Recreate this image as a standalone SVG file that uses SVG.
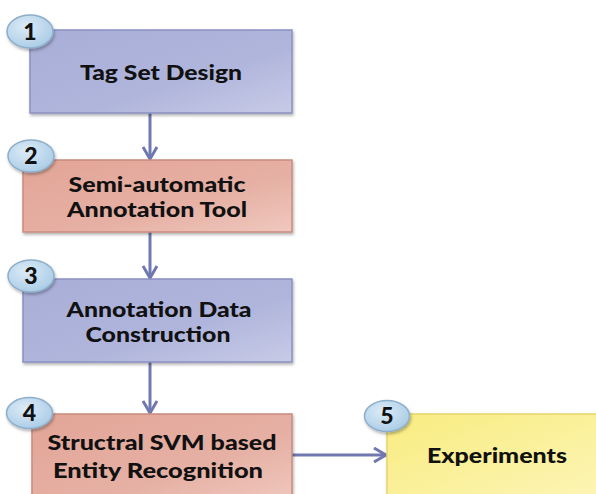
<svg xmlns="http://www.w3.org/2000/svg" width="596" height="494" viewBox="0 0 596 494">
<defs>
<linearGradient id="gBlue" x1="0" y1="0" x2="1" y2="1">
<stop offset="0" stop-color="#a9aed8"/><stop offset="0.6" stop-color="#b0b5dc"/><stop offset="1" stop-color="#c8cbe6"/>
</linearGradient>
<linearGradient id="gRed" x1="0" y1="0" x2="1" y2="1">
<stop offset="0" stop-color="#e2a597"/><stop offset="0.6" stop-color="#e6b0a4"/><stop offset="1" stop-color="#f0c8be"/>
</linearGradient>
<linearGradient id="gYel" x1="0" y1="0" x2="1" y2="1">
<stop offset="0" stop-color="#f8ec80"/><stop offset="1" stop-color="#fdf5b8"/>
</linearGradient>
<radialGradient id="gBadge" cx="0.4" cy="0.35" r="0.7">
<stop offset="0" stop-color="#dcebf7"/><stop offset="1" stop-color="#a9cbe6"/>
</radialGradient>
<marker id="arr" viewBox="0 0 16 16" refX="14" refY="8" markerWidth="16" markerHeight="16" markerUnits="userSpaceOnUse" orient="auto">
<path d="M2,1 L14,8 L2,15" fill="none" stroke="#7078b0" stroke-width="3"/>
</marker>
<filter id="sh" x="-10%" y="-10%" width="130%" height="130%">
<feDropShadow dx="1" dy="2" stdDeviation="1.5" flood-color="#000" flood-opacity="0.3"/>
</filter>
</defs>
<style>
.box{stroke-width:1.5}
.blue{fill:url(#gBlue);stroke:#8a90c2}
.red{fill:url(#gRed);stroke:#c98b7f}
.yel{fill:url(#gYel);stroke:#e6d56c}
.badge{fill:url(#gBadge);stroke:#8eafcc;stroke-width:1.5}
.t{font-family:Lato,"Open Sans",sans-serif;font-weight:900;font-size:21px;fill:#111;text-anchor:middle}
.n{font-family:Lato,"Open Sans",sans-serif;font-weight:900;font-size:23px;fill:#111;text-anchor:middle}
.c{stroke:#7078b0;stroke-width:3;fill:none;marker-end:url(#arr)}
</style>
<g id="connectors">
<line class="c" x1="150" y1="113" x2="150" y2="159"/>
<line class="c" x1="150" y1="232" x2="150" y2="278"/>
<line class="c" x1="150" y1="362" x2="150" y2="413"/>
<line class="c" x1="292" y1="455" x2="386" y2="455"/>
</g>
<g id="node1">
<rect class="box blue" x="30" y="30" width="262" height="83" filter="url(#sh)"/>
<text class="t" x="161" y="80" textLength="162" lengthAdjust="spacingAndGlyphs">Tag Set Design</text>
<ellipse class="badge" cx="30" cy="31.5" rx="23" ry="16.5" filter="url(#sh)"/>
<text class="n" x="30" y="40">1</text>
</g>
<g id="node2">
<rect class="box red" x="23" y="160" width="269" height="72" filter="url(#sh)"/>
<text class="t" x="157" y="192" textLength="177" lengthAdjust="spacingAndGlyphs">Semi-automatic</text>
<text class="t" x="157" y="217" textLength="180" lengthAdjust="spacingAndGlyphs">Annotation Tool</text>
<ellipse class="badge" cx="31" cy="156" rx="23" ry="16" filter="url(#sh)"/>
<text class="n" x="31" y="164">2</text>
</g>
<g id="node3">
<rect class="box blue" x="23" y="279" width="269" height="83" filter="url(#sh)"/>
<text class="t" x="159" y="317" textLength="185" lengthAdjust="spacingAndGlyphs">Annotation Data</text>
<text class="t" x="158" y="342" textLength="145" lengthAdjust="spacingAndGlyphs">Construction</text>
<ellipse class="badge" cx="31" cy="276" rx="23" ry="16" filter="url(#sh)"/>
<text class="n" x="31" y="284">3</text>
</g>
<g id="node4">
<rect class="box red" x="32" y="414" width="260" height="90" filter="url(#sh)"/>
<text class="t" x="162" y="450" textLength="229" lengthAdjust="spacingAndGlyphs">Structral SVM based</text>
<text class="t" x="158" y="478" textLength="210" lengthAdjust="spacingAndGlyphs">Entity Recognition</text>
<ellipse class="badge" cx="29.5" cy="413" rx="23" ry="15.5" filter="url(#sh)"/>
<text class="n" x="29.5" y="421">4</text>
</g>
<g id="node5">
<rect class="box yel" x="387" y="414" width="222" height="90" filter="url(#sh)"/>
<text class="t" x="497" y="463" textLength="140" lengthAdjust="spacingAndGlyphs">Experiments</text>
<ellipse class="badge" cx="387" cy="416" rx="22.5" ry="15.5" filter="url(#sh)"/>
<text class="n" x="387" y="424">5</text>
</g>
</svg>
